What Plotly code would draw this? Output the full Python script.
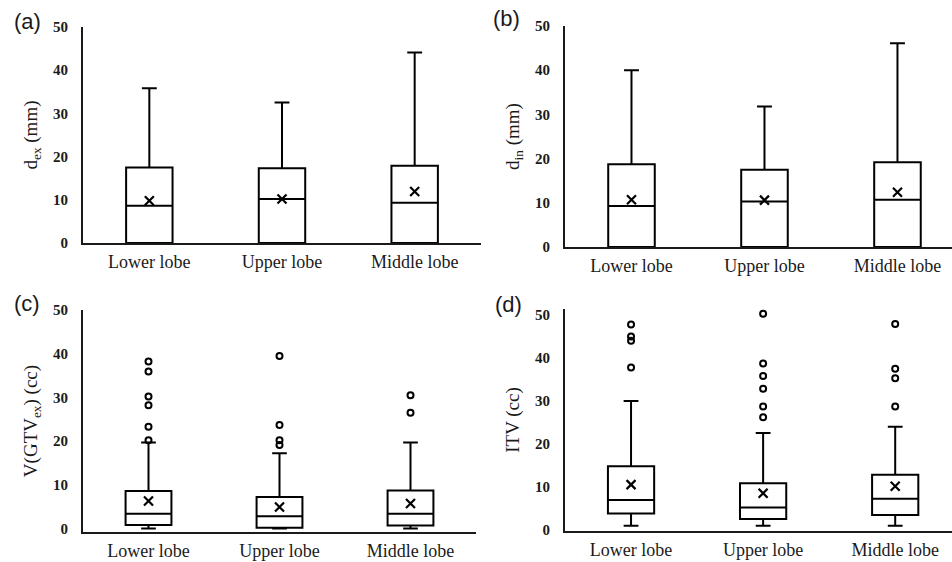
import plotly.graph_objects as go

categories = ["Lower lobe", "Upper lobe", "Middle lobe"]

# Panel (a): d_ex (mm)
a_q1 = [0.0, 0.0, 0.0]
a_median = [8.6, 10.2, 9.3]
a_q3 = [17.5, 17.3, 17.9]
a_low = [0.0, 0.0, 0.0]
a_high = [35.8, 32.5, 44.1]
a_mean = [9.8, 10.2, 11.9]

# Panel (b): d_in (mm)
b_q1 = [0.0, 0.0, 0.0]
b_median = [9.3, 10.3, 10.7]
b_q3 = [18.7, 17.5, 19.2]
b_low = [0.0, 0.0, 0.0]
b_high = [40.0, 31.8, 46.1]
b_mean = [10.7, 10.6, 12.4]

# Panel (c): V(GTV_ex) (cc)
c_q1 = [0.8, 0.2, 0.7]
c_median = [3.4, 2.8, 3.4]
c_q3 = [8.6, 7.2, 8.7]
c_low = [0.0, 0.0, 0.0]
c_high = [19.7, 17.2, 19.7]
c_mean = [6.3, 4.9, 5.7]
c_out_lower = [38.2, 35.9, 30.2, 28.2, 23.3, 20.2]
c_out_upper = [39.5, 23.7, 20.2, 19.1]
c_out_middle = [30.5, 26.5]

# Panel (d): ITV (cc)
d_q1 = [3.8, 2.5, 3.4]
d_median = [6.9, 5.2, 7.2]
d_q3 = [14.8, 10.8, 12.8]
d_low = [0.9, 0.9, 0.9]
d_high = [30.0, 22.5, 24.0]
d_mean = [10.5, 8.5, 10.1]
d_out_lower = [47.8, 45.0, 44.0, 37.8]
d_out_upper = [50.3, 38.7, 35.8, 32.8, 28.7, 26.2]
d_out_middle = [47.9, 37.5, 35.3, 28.7]

panel_labels = ["(a)", "(b)", "(c)", "(d)"]
y_titles = ["d<sub>ex</sub> (mm)", "d<sub>in</sub> (mm)", "V(GTV<sub>ex</sub>) (cc)", "ITV (cc)"]

fig = go.Figure()

panels = [
    (a_q1, a_median, a_q3, a_low, a_high, a_mean, None),
    (b_q1, b_median, b_q3, b_low, b_high, b_mean, None),
    (c_q1, c_median, c_q3, c_low, c_high, c_mean, [c_out_lower, c_out_upper, c_out_middle]),
    (d_q1, d_median, d_q3, d_low, d_high, d_mean, [d_out_lower, d_out_upper, d_out_middle]),
]

for i, (q1, med, q3, lo, hi, mean, outs) in enumerate(panels):
    xa = "x" if i == 0 else f"x{i+1}"
    ya = "y" if i == 0 else f"y{i+1}"
    fig.add_trace(go.Box(
        x=categories, q1=q1, median=med, q3=q3, lowerfence=lo, upperfence=hi,
        boxpoints=False, whiskerwidth=0.32, fillcolor="white",
        line=dict(color="black", width=2), xaxis=xa, yaxis=ya, showlegend=False,
        hoverinfo="skip",
    ))
    fig.add_trace(go.Scatter(
        x=categories, y=mean, mode="markers",
        marker=dict(symbol="x-thin", size=9, line=dict(color="black", width=2.2), color="black"),
        xaxis=xa, yaxis=ya, showlegend=False, hoverinfo="skip",
    ))
    if outs:
        ox, oy = [], []
        for cat, vals in zip(categories, outs):
            ox += [cat] * len(vals)
            oy += vals
        fig.add_trace(go.Scatter(
            x=ox, y=oy, mode="markers",
            marker=dict(symbol="circle-open", size=6, line=dict(color="black", width=2), color="black"),
            xaxis=xa, yaxis=ya, showlegend=False, hoverinfo="skip",
        ))

W, H = 952, 562
xdomains = [(83 / W, 481 / W), (565 / W, 1.0), (83 / W, 476 / W), (565 / W, 1.0)]
xranges = [[-0.5, 2.5], [-0.5, 2.41], [-0.5, 2.5], [-0.5, 2.43]]
ydomains = [(1 - 243 / H, 1 - 27 / H), (1 - 247 / H, 1 - 26 / H),
            (1 - 532 / H, 1 - 310 / H), (1 - 531 / H, 1 - 309 / H)]
yranges = [[0, 50], [0, 50], [-0.8, 50], [-0.3, 51.4]]

serif = "Liberation Serif"
layout = dict(
    width=W, height=H, margin=dict(l=0, r=0, t=0, b=0, autoexpand=False),
    paper_bgcolor="white", plot_bgcolor="white",
    boxgap=0.5, showlegend=False,
    font=dict(family=serif, color="#1a1a1a"),
)
for i in range(4):
    xk = "xaxis" if i == 0 else f"xaxis{i+1}"
    yk = "yaxis" if i == 0 else f"yaxis{i+1}"
    ya = "y" if i == 0 else f"y{i+1}"
    xa = "x" if i == 0 else f"x{i+1}"
    layout[xk] = dict(
        domain=list(xdomains[i]), anchor=ya, type="category", range=xranges[i],
        showline=True, linecolor="#1a1a1a", linewidth=2, ticks="", showgrid=False,
        zeroline=False, tickfont=dict(family=serif, size=18, color="#1a1a1a"),
        ticklabelstandoff=1, automargin=False,
    )
    layout[yk] = dict(
        domain=list(ydomains[i]), anchor=xa, range=yranges[i], tick0=0, dtick=10,
        showline=True, linecolor="#1a1a1a", linewidth=2, ticks="", showgrid=False,
        zeroline=False, tickfont=dict(family=serif, size=15, color="#1a1a1a", weight="bold"),
        ticklabelstandoff=10, automargin=False,
        title=dict(text=y_titles[i], font=dict(family=serif, size=19, color="#1a1a1a"), standoff=10),
    )
fig.update_layout(**layout)

label_pos = [(12, 22), (491, 18), (12, 303), (493, 304)]
for lab, (px, py) in zip(panel_labels, label_pos):
    fig.add_annotation(
        text=lab, x=px / W, y=1 - py / H, xref="paper", yref="paper",
        xanchor="left", yanchor="middle", showarrow=False,
        font=dict(family="Liberation Sans", size=22, color="#1a1a1a"),
    )

fig.write_html(
    "out.html",
    config={"displayModeBar": False},
    post_script="document.body.style.margin='0px';document.body.style.overflow='hidden';",
)
